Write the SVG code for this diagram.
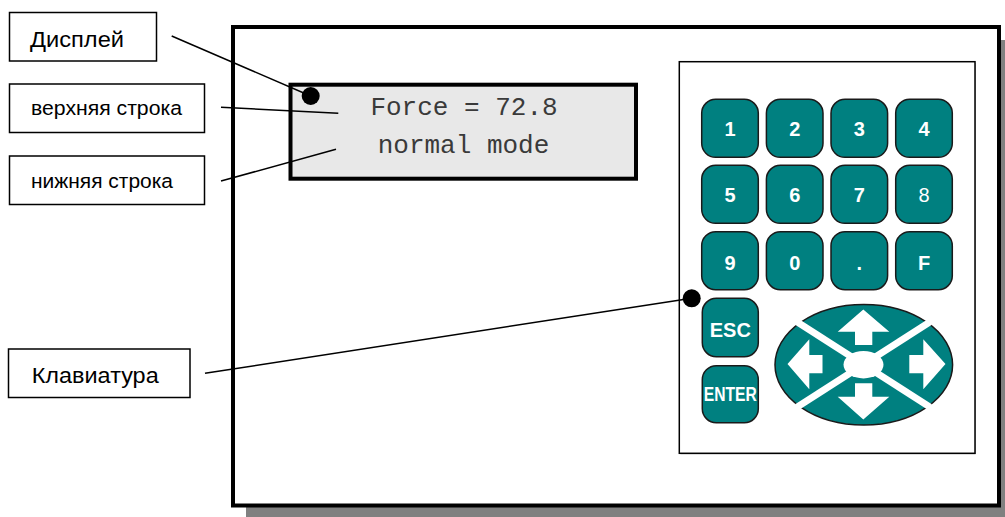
<svg xmlns="http://www.w3.org/2000/svg" width="1005" height="517" viewBox="0 0 1005 517">
<style>
.lbl{fill:#fff;stroke:#000;stroke-width:1.5}
.lt{font-family:"Liberation Sans",Arial,sans-serif;fill:#000}
.key{fill:#008080;stroke:#1a1a1a;stroke-width:1.5}
.kt{font-family:"Liberation Sans",Arial,sans-serif;font-weight:bold;fill:#fff;text-anchor:middle}
.lcd{font-family:"Liberation Mono","Courier New",monospace;font-size:26px;fill:#3a3a3a;text-anchor:middle}
.lead{stroke:#000;stroke-width:1.5;fill:none}
.arr{fill:#fff}
</style>
<rect width="1005" height="517" fill="#fff"/>
<g id="device">
<rect x="246" y="40" width="770" height="480" fill="#808080"/>
<rect x="233" y="27" width="766" height="478.5" fill="#fff" stroke="#000" stroke-width="4"/>
</g>
<g id="display">
<rect x="290.5" y="84.7" width="345.5" height="94" fill="#e8e8e8" stroke="#000" stroke-width="4"/>
<text class="lcd" x="464" y="115">Force = 72.8</text>
<text class="lcd" x="463.5" y="153">normal mode</text>
</g>
<g id="keypad" font-size="20">
<rect x="680.5" y="62.7" width="295" height="391.5" fill="#808080"/>
<rect x="679.3" y="61.7" width="295.7" height="391.6" fill="#fff" stroke="#000" stroke-width="1.5"/>
<g id="key-1"><rect class="key" x="701.7" y="99.3" width="56.6" height="58" rx="14"/><text class="kt" x="730" y="136">1</text></g>
<g id="key-2"><rect class="key" x="766.4" y="99.3" width="56.6" height="58" rx="14"/><text class="kt" x="794.7" y="136">2</text></g>
<g id="key-3"><rect class="key" x="831" y="99.3" width="56.6" height="58" rx="14"/><text class="kt" x="859.3" y="136">3</text></g>
<g id="key-4"><rect class="key" x="895.7" y="99.3" width="56.6" height="58" rx="14"/><text class="kt" x="924" y="136">4</text></g>
<g id="key-5"><rect class="key" x="701.7" y="165.3" width="56.6" height="58" rx="14"/><text class="kt" x="730" y="201.7">5</text></g>
<g id="key-6"><rect class="key" x="766.4" y="165.3" width="56.6" height="58" rx="14"/><text class="kt" x="794.7" y="201.7">6</text></g>
<g id="key-7"><rect class="key" x="831" y="165.3" width="56.6" height="58" rx="14"/><text class="kt" x="859.3" y="201.7">7</text></g>
<g id="key-8"><rect class="key" x="895.7" y="165.3" width="56.6" height="58" rx="14"/><text class="kt" x="924" y="201.7" style="font-weight:normal">8</text></g>
<g id="key-9"><rect class="key" x="701.7" y="231.7" width="56.6" height="58" rx="14"/><text class="kt" x="730" y="270">9</text></g>
<g id="key-0"><rect class="key" x="766.4" y="231.7" width="56.6" height="58" rx="14"/><text class="kt" x="794.7" y="270">0</text></g>
<g id="key-dot"><rect class="key" x="831" y="231.7" width="56.6" height="58" rx="14"/><text class="kt" x="859.3" y="270">.</text></g>
<g id="key-F"><rect class="key" x="895.7" y="231.7" width="56.6" height="58" rx="14"/><text class="kt" x="924" y="270">F</text></g>
<g id="key-esc"><rect class="key" x="702.3" y="298.3" width="56" height="58.4" rx="14"/><text class="kt" x="730.3" y="336.7">ESC</text></g>
<g id="key-enter"><rect class="key" x="702.3" y="365.7" width="56" height="57" rx="14"/><text class="kt" x="730.3" y="400.7" textLength="53" lengthAdjust="spacingAndGlyphs">ENTER</text></g>
<g id="key-arrows">
<ellipse class="key" cx="863.8" cy="364.7" rx="88.8" ry="60.3" stroke-width="1.2"/>
<line x1="797" y1="321.9" x2="930" y2="407.1" stroke="#fff" stroke-width="7"/>
<line x1="930" y1="321.9" x2="797" y2="407.1" stroke="#fff" stroke-width="7"/>
<ellipse cx="863.5" cy="364.7" rx="20" ry="13.7" fill="#fff"/>
<polygon class="arr" points="863.3,309.5 889.3,331.7 872.3,331.7 872.3,345 855,345 855,331.7 837.7,331.7"/>
<polygon class="arr" points="863.3,419.5 889.3,396.7 872.3,396.7 872.3,383.3 855,383.3 855,396.7 837.7,396.7"/>
<polygon class="arr" points="787.5,364 809.3,339.3 809.3,355 822.5,355 822.5,373.3 809.3,373.3 809.3,389.3"/>
<polygon class="arr" points="945.5,364 923.3,339.3 923.3,355 909.3,355 909.3,373.3 923.3,373.3 923.3,389.3"/>
</g>
</g>
<g id="label-display"><rect class="lbl" x="9.5" y="12.5" width="147" height="48.5"/><text class="lt" x="30" y="46.7" font-size="22" textLength="94" lengthAdjust="spacingAndGlyphs">Дисплей</text></g>
<g id="label-top"><rect class="lbl" x="9.5" y="84" width="195" height="48.5"/><text class="lt" x="31" y="115" font-size="20.5" textLength="151" lengthAdjust="spacingAndGlyphs">верхняя строка</text></g>
<g id="label-bottom"><rect class="lbl" x="9.5" y="156" width="195" height="48.5"/><text class="lt" x="31" y="188.3" font-size="20.5" textLength="142" lengthAdjust="spacingAndGlyphs">нижняя строка</text></g>
<g id="label-keyboard"><rect class="lbl" x="8.5" y="349" width="181.5" height="48.5"/><text class="lt" x="31.7" y="383.3" font-size="22.5" textLength="127" lengthAdjust="spacingAndGlyphs">Клавиатура</text></g>
<g id="connectors">
<line class="lead" x1="171.7" y1="36" x2="310.7" y2="96"/>
<circle cx="310.7" cy="96" r="9" fill="#000"/>
<line class="lead" x1="221" y1="107.3" x2="338.3" y2="113.3"/>
<line class="lead" x1="221" y1="181" x2="336" y2="149.3"/>
<line class="lead" x1="205" y1="373.3" x2="691.7" y2="298.3"/>
<circle cx="691.7" cy="298.3" r="9" fill="#000"/>
</g>
</svg>
